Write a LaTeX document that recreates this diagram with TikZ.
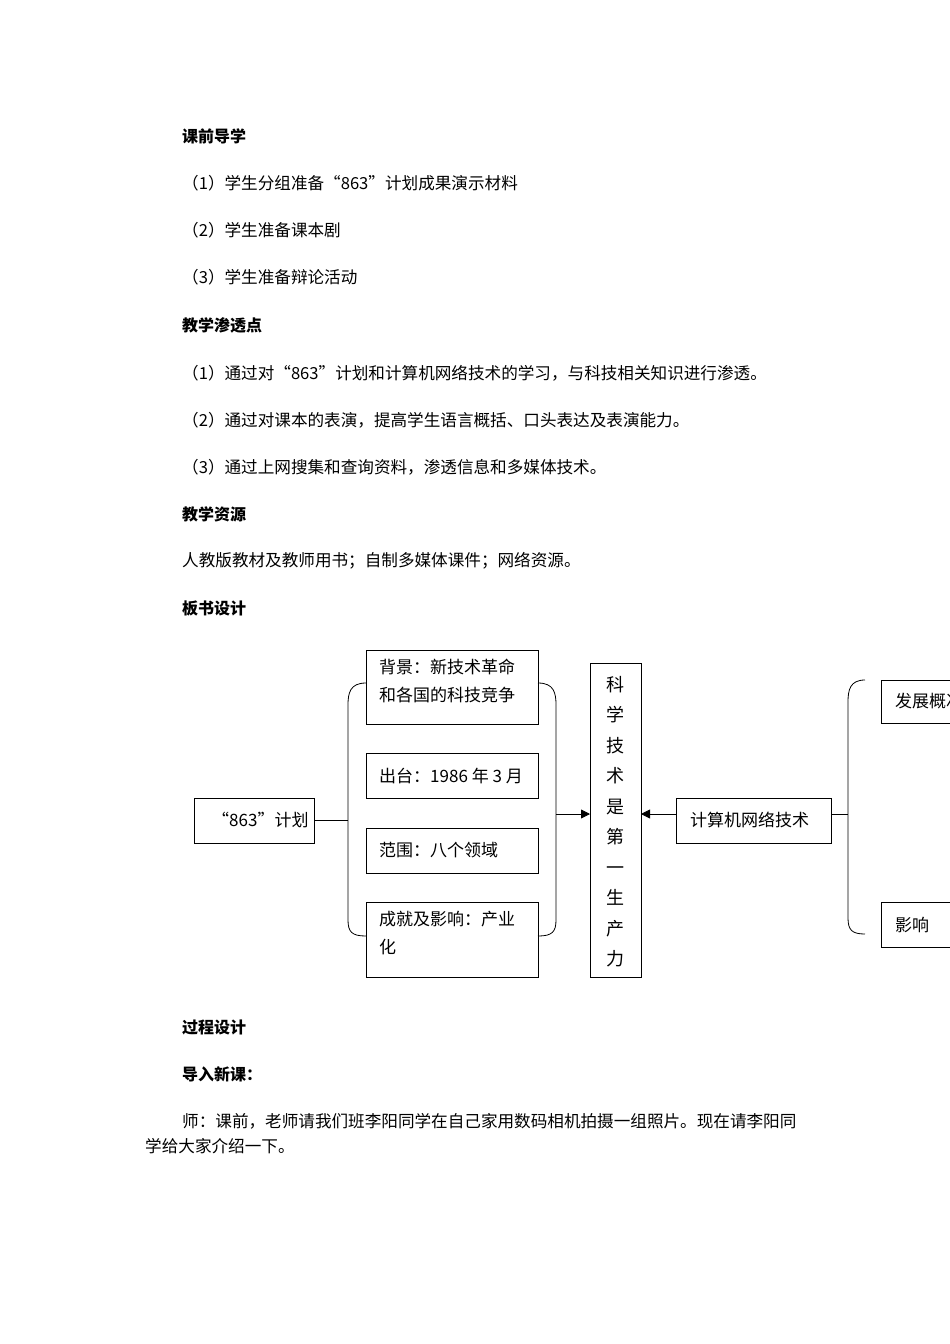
\documentclass[tikz,border=0pt]{standalone}
\usepackage{fontspec}
\setmainfont{Noto Sans CJK SC}
\usetikzlibrary{arrows.meta}
\begin{document}
\begin{tikzpicture}[x=1pt,y=-1pt,
  t/.style={anchor=west,inner sep=0,font=\fontsize{16.6}{18}\selectfont},
  h/.style={t,font=\fontsize{16}{18}\selectfont\bfseries},
  d/.style={anchor=west,inner sep=0,font=\fontsize{17}{18}\selectfont},
  bx/.style={draw,thick,inner sep=0},
  lbl/.style={anchor=north west,inner sep=0,font=\fontsize{17}{28}\selectfont,align=left},
  ln/.style={thick},
  ar/.style={thick,-{Triangle[length=9pt,width=9pt]}}]
\useasboundingbox (0,0) rectangle (950,1344);
\clip (0,0) rectangle (950,1344);
\node[h] (h1) at (182,136) {课前导学};
\node[t] (a1) at (182,183) {（1）学生分组准备“863”计划成果演示材料};
\node[t] (a2) at (182,230) {（2）学生准备课本剧};
\node[t] (a3) at (182,277) {（3）学生准备辩论活动};
\node[h] (h2) at (182,325) {教学渗透点};
\node[t] (b1) at (182,373) {（1）通过对“863”计划和计算机网络技术的学习，与科技相关知识进行渗透。};
\node[t] (b2) at (182,420) {（2）通过对课本的表演，提高学生语言概括、口头表达及表演能力。};
\node[t] (b3) at (182,467) {（3）通过上网搜集和查询资料，渗透信息和多媒体技术。};
\node[h] (h3) at (182,514) {教学资源};
\node[t] (c1) at (182,561) {人教版教材及教师用书；自制多媒体课件；网络资源。};
\node[h] (h4) at (182,608) {板书设计};
\node[h] (h5) at (182,1027) {过程设计};
\node[h] (h6) at (182,1074) {导入新课：};
\node[t] (d1) at (182,1121) {师：课前，老师请我们班李阳同学在自己家用数码相机拍摄一组照片。现在请李阳同};
\node[t] (d2) at (145,1146) {学给大家介绍一下。};
% diagram boxes
\draw[bx] (194,798) rectangle (314,843);
\node[d] (p863) at (212,820) {“863”计划};
\draw[bx] (366,650) rectangle (538,724);
\node[lbl] (bg) at (379,659) {背景：新技术革命\\和各国的科技竞争};
\draw[bx] (366,753) rectangle (538,798);
\node[d] (ct) at (379,776) {出台：1986 年 3 月};
\draw[bx] (366,828) rectangle (538,873);
\node[d] (fw) at (379,850) {范围：八个领域};
\draw[bx] (366,902) rectangle (538,977);
\node[lbl] (cj) at (379,911) {成就及影响：产业\\化};
\draw[bx] (590,663) rectangle (641,977);
\node[anchor=north,inner sep=0,align=center,font=\fontsize{18}{30.5}\selectfont] (kx) at (615,676) {科\\学\\技\\术\\是\\第\\一\\生\\产\\力};
\draw[bx] (676,798) rectangle (831,843);
\node[d] (jsj) at (690,820) {计算机网络技术};
\draw[bx] (881,680) rectangle (960,723);
\node[d] (fz) at (895,701) {发展概况};
\draw[bx] (881,902) rectangle (960,947);
\node[d] (yx) at (895,925) {影响};
% brackets
\draw[ln] (314,820) -- (348,820);
\draw[ln] (366,683) .. controls (350,683) and (348,693) .. (348,705) -- (348,920) .. controls (348,932) and (352,936) .. (366,936);
\draw[ln] (538,683) .. controls (554,683) and (556,693) .. (556,705) -- (556,920) .. controls (556,932) and (552,936) .. (538,936);
\draw[ar] (556,814) -- (590,814);
\draw[ar] (676,814) -- (641,814);
\draw[ln] (831,814) -- (848,814);
\draw[ln] (865,680) .. controls (850,680) and (848,690) .. (848,702) -- (848,918) .. controls (848,930) and (852,934) .. (865,934);
\end{tikzpicture}
\end{document}
